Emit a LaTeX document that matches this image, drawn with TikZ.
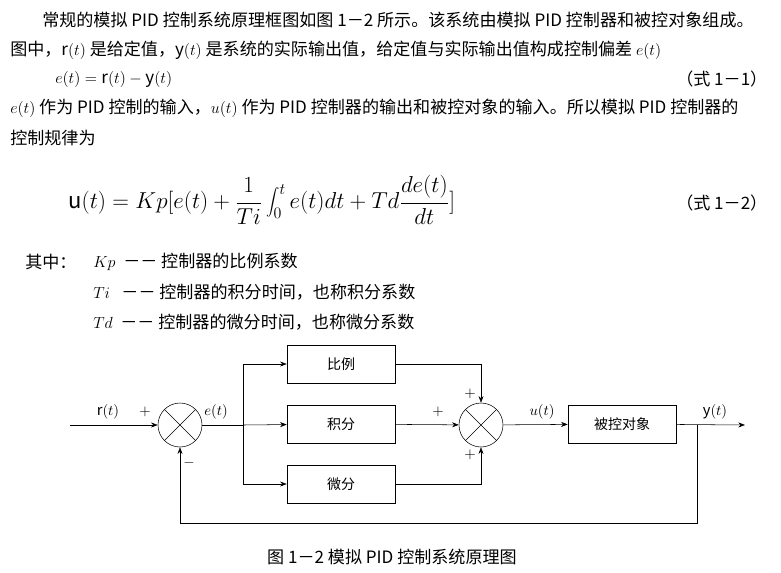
\documentclass[tikz,border=0pt]{standalone}
\usepackage{fontspec}
\setmainfont{Noto Sans CJK SC}
\usetikzlibrary{arrows.meta}
\tikzset{
  txt/.style={anchor=west,inner sep=0pt,font=\fontsize{12.8}{15}\selectfont},
  blk/.style={draw,minimum width=81pt,minimum height=28.5pt,font=\fontsize{10.5}{12}\selectfont},
  sumc/.style={draw,circle,minimum size=33pt,inner sep=0pt,path picture={
    \draw (path picture bounding box.north west)--(path picture bounding box.south east)
          (path picture bounding box.south west)--(path picture bounding box.north east);}},
  lbl/.style={font=\fontsize{11}{12}\selectfont,inner sep=1pt},
  arr/.style={-{Stealth[length=5pt]}}
}
\begin{document}
\begin{tikzpicture}[x=0.75pt,y=-0.75pt]
\useasboundingbox (0,0) rectangle (781,572);
% text
\node[txt] (l1) at (42,20) {常规的模拟 PID 控制系统原理框图如图 1－2 所示。该系统由模拟 PID 控制器和被控对象组成。};
\node[txt] (l2) at (10,50) {图中，$\mathrm{r}(t)$ 是给定值，$\mathrm{y}(t)$ 是系统的实际输出值，给定值与实际输出值构成控制偏差 $e(t)$};
\node[txt] (l3) at (55,79) {$e(t)=\mathrm{r}(t)-\mathrm{y}(t)$};
\node[txt] (n1) at (676,79) {（式 1－1）};
\node[txt] (l4) at (10,108) {$e(t)$ 作为 PID 控制的输入，$u(t)$ 作为 PID 控制器的输出和被控对象的输入。所以模拟 PID 控制器的};
\node[txt] (l5) at (10,138) {控制规律为};
\node[txt,font=\fontsize{16.5}{18}\selectfont] (eq) at (68,200)
  {$\displaystyle \mathrm{u}(t)=Kp[e(t)+\frac{1}{Ti}\int_0^t e(t)dt+Td\frac{de(t)}{dt}]$};
\node[txt] (n2) at (676,203) {（式 1－2）};
\node[txt] (k0) at (25,262) {其中：};
\node[txt] (k1) at (93,262) {$Kp$\ \ －－ 控制器的比例系数};
\node[txt] (k2) at (93,292) {$Ti$\ \ \ －－ 控制器的积分时间，也称积分系数};
\node[txt] (k3) at (93,322) {$Td$\ \ －－ 控制器的微分时间，也称微分系数};
% diagram
\coordinate (in) at (70,425);
\node[sumc] (s1) at (180,425) {};
\node[sumc] (s2) at (481,425) {};
\node[blk] (p) at (341,364) {比例};
\node[blk] (i) at (341,424) {积分};
\node[blk] (d) at (341,484) {微分};
\node[blk] (g) at (622,424) {被控对象};
\coordinate (br) at (243,425);
\coordinate (out) at (745,425);
\coordinate (fb) at (697,425);
\draw[arr] (in) -- (s1);
\draw (s1) -- (br);
\draw[arr] (br) |- (p);
\draw[arr] (br) -- (i);
\draw[arr] (br) |- (d);
\draw[arr] (p) -| (s2);
\draw[arr] (i) -- (s2);
\draw[arr] (d) -| (s2);
\draw[arr] (s2) -- (g);
\draw[arr] (g) -- (out);
\draw[arr] (fb) -- ++(0,98) -| (s1);
\node[lbl] (rt) at (108,412) {$\mathrm{r}(t)$};
\node[lbl] (pa) at (145,412) {$+$};
\node[lbl] (et) at (216,412) {$e(t)$};
\node[lbl] (mi) at (189,463) {$-$};
\node[lbl] (pb) at (470,394) {$+$};
\node[lbl] (pc) at (438,412) {$+$};
\node[lbl] (pd) at (470,455) {$+$};
\node[lbl] (ut) at (542,412) {$u(t)$};
\node[lbl] (yt) at (715,412) {$\mathrm{y}(t)$};
\node[font=\fontsize{12.8}{15}\selectfont] (cap) at (392,557) {图 1－2 模拟 PID 控制系统原理图};
\end{tikzpicture}
\end{document}
